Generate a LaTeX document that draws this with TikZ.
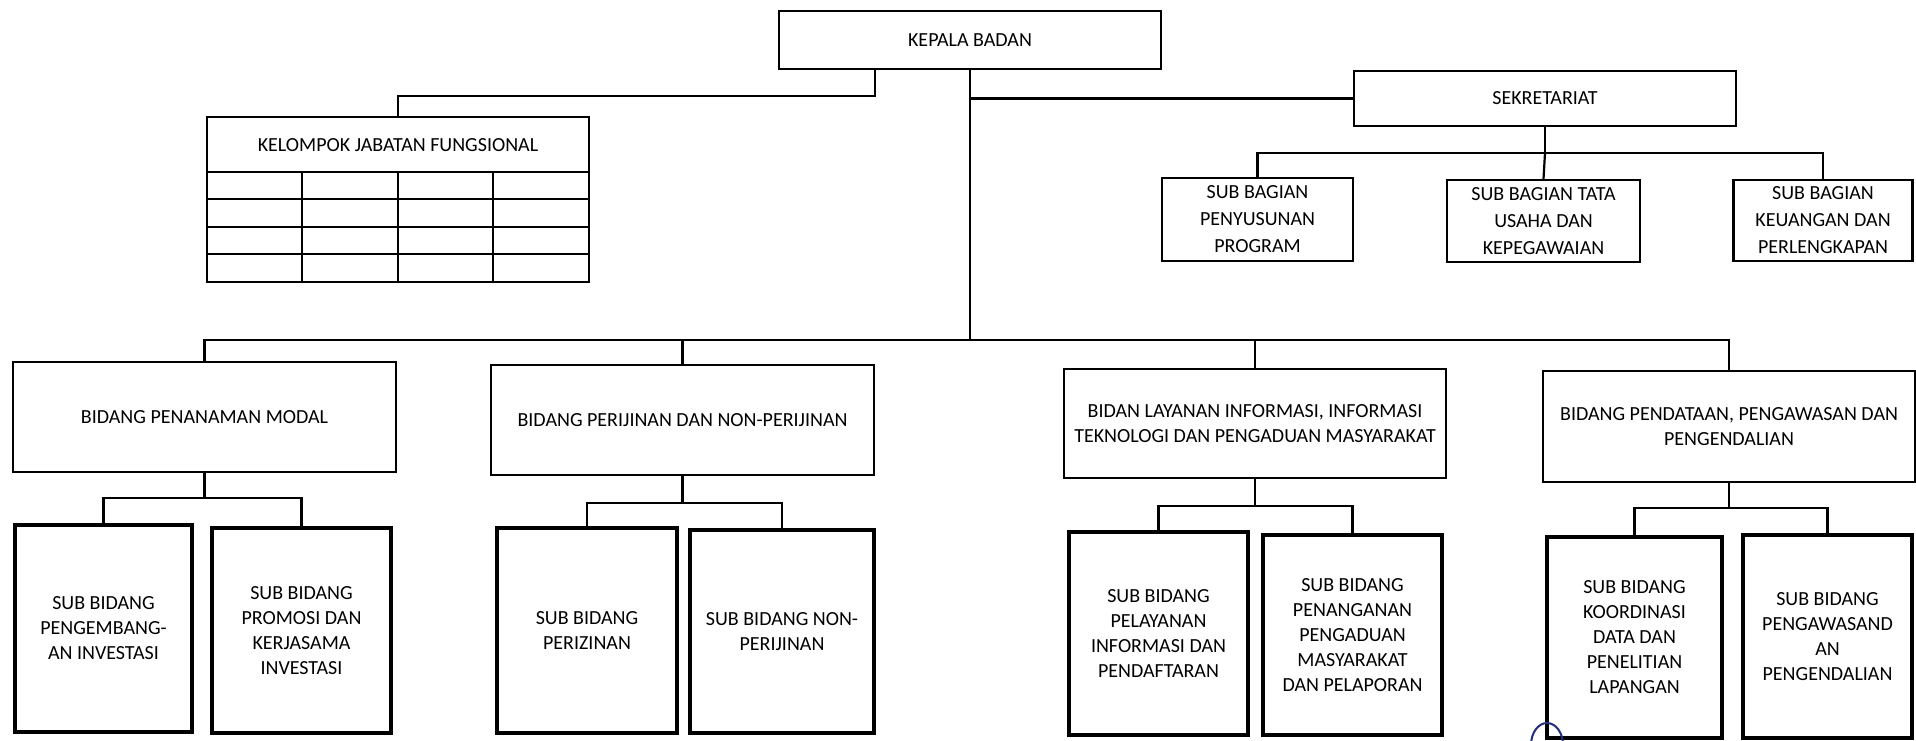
\documentclass[tikz,border=0pt]{standalone}
\usepackage{fontspec}
\setmainfont{Carlito}
\definecolor{penblue}{RGB}{35,45,125}
\begin{document}
\begin{tikzpicture}[x=0.5pt,y=-0.5pt,
  sz/.style 2 args={minimum width=#1*0.5pt, minimum height=#2*0.5pt},
  box/.style={draw=black, line width=1.2pt, inner sep=0pt, align=center,
    font=\fontsize{10}{12.5}\selectfont},
  sbag/.style={box, font=\fontsize{10}{13.5}\selectfont},
  subbox/.style={box, line width=2pt},
  conn/.style={draw=black, line width=1.1pt},
  grid/.style={draw=black, line width=1.1pt}]
\clip (0,0) rectangle (1916,740);
\fill[white] (0,0) rectangle (1916,740);

% top level
\node[box, sz={382}{58}] (kepala) at (970,40) {KEPALA BADAN};
\node[box, sz={382}{55}] (sek) at (1545,98.5) {SEKRETARIAT};

% sub bagian
\node[sbag, sz={191}{83}] (sbp) at (1257.5,219.5) {SUB BAGIAN\\PENYUSUNAN\\PROGRAM};
\node[sbag, sz={193}{82}] (sbt) at (1543.5,221) {SUB BAGIAN TATA\\USAHA DAN\\KEPEGAWAIAN};
\node[sbag, sz={179}{81}] (sbk) at (1823,220.5) {SUB BAGIAN\\KEUANGAN DAN\\PERLENGKAPAN};

% kelompok jabatan fungsional (table)
\node[box, sz={382}{165}] (kjf) at (398,199.5) {};
\node[font=\fontsize{10}{12.5}\selectfont] (kjft) at (398,145) {KELOMPOK JABATAN FUNGSIONAL};
\foreach \yy in {172,199,227,254}
  \draw[grid] (kjf.west |- 0,\yy) -- (kjf.east |- 0,\yy);
\foreach \xx in {302,398,493}
  \draw[grid] (\xx,172) -- (\xx,0 |- kjf.south);

% bidang
\node[box, sz={383}{110}] (bpm) at (204.5,417) {BIDANG PENANAMAN MODAL};
\node[box, sz={383}{110}] (bpn) at (682.5,420) {BIDANG PERIJINAN DAN NON-PERIJINAN};
\node[box, sz={382}{109}] (bli) at (1255,423.5) {BIDAN LAYANAN INFORMASI, INFORMASI\\TEKNOLOGI DAN PENGADUAN MASYARAKAT};
\node[box, sz={372}{111}] (bpp) at (1729,426.5) {BIDANG PENDATAAN, PENGAWASAN DAN\\PENGENDALIAN};

% sub bidang
\node[subbox, sz={177}{207}] (sb1) at (103.5,628.5) {SUB BIDANG\\PENGEMBANG-\\AN INVESTASI};
\node[subbox, sz={179}{205}] (sb2) at (301.5,630.5) {SUB BIDANG\\PROMOSI DAN\\KERJASAMA\\INVESTASI};
\node[subbox, sz={180}{205}] (sb3) at (587,630.5) {SUB BIDANG\\PERIZINAN};
\node[subbox, sz={184}{203}] (sb4) at (782,631.5) {SUB BIDANG NON-\\PERIJINAN};
\node[subbox, sz={179}{203}] (sb5) at (1158.5,633.5) {SUB BIDANG\\PELAYANAN\\INFORMASI DAN\\PENDAFTARAN};
\node[subbox, sz={179}{200}] (sb6) at (1352.5,635) {SUB BIDANG\\PENANGANAN\\PENGADUAN\\MASYARAKAT\\DAN PELAPORAN};
\node[subbox, sz={175}{201}] (sb7) at (1634.5,637.5) {SUB BIDANG\\KOORDINASI\\DATA DAN\\PENELITIAN\\LAPANGAN};
\node[subbox, sz={169}{203}] (sb8) at (1827.5,636.5) {SUB BIDANG\\PENGAWASAND\\AN\\PENGENDALIAN};

% connectors
\coordinate (kj) at (875,96);
\coordinate (bus) at (970,340);
\coordinate (sekbar) at (1545,153);
\coordinate (c1) at (204.5,498);
\coordinate (c2) at (682.5,503);
\coordinate (c3) at (1255,506);
\coordinate (c4) at (1729,508);

\draw[conn] (kepala.south -| kj) -- (kj) -| (kjf.north);
\draw[conn] (kepala.south) -- (bus);
\draw[conn] (kepala.south |- sek.west) -- (sek.west);
\draw[conn] (sek.south) -- (sekbar);
\draw[conn] (sbp.north) |- (sekbar) -| (sbk.north);
\draw[conn] (sekbar) -- (sbt.north);

\draw[conn] (bpm.north) |- (bus) -| (bpp.north);
\draw[conn] (bpn.north) -- (bpn.north |- bus);
\draw[conn] (bli.north) -- (bli.north |- bus);

\draw[conn] (bpm.south) -- (c1);
\draw[conn] (sb1.north) |- (c1) -| (sb2.north);
\draw[conn] (bpn.south) -- (c2);
\draw[conn] (sb3.north) |- (c2) -| (sb4.north);
\draw[conn] (bli.south) -- (c3);
\draw[conn] (sb5.north) |- (c3) -| (sb6.north);
\draw[conn] (bpp.south) -- (c4);
\draw[conn] (sb7.north) |- (c4) -| (sb8.north);

% pen mark
\draw[penblue, line width=1pt] (1547,745) ellipse [x radius=8pt, y radius=11pt];
\end{tikzpicture}
\end{document}
